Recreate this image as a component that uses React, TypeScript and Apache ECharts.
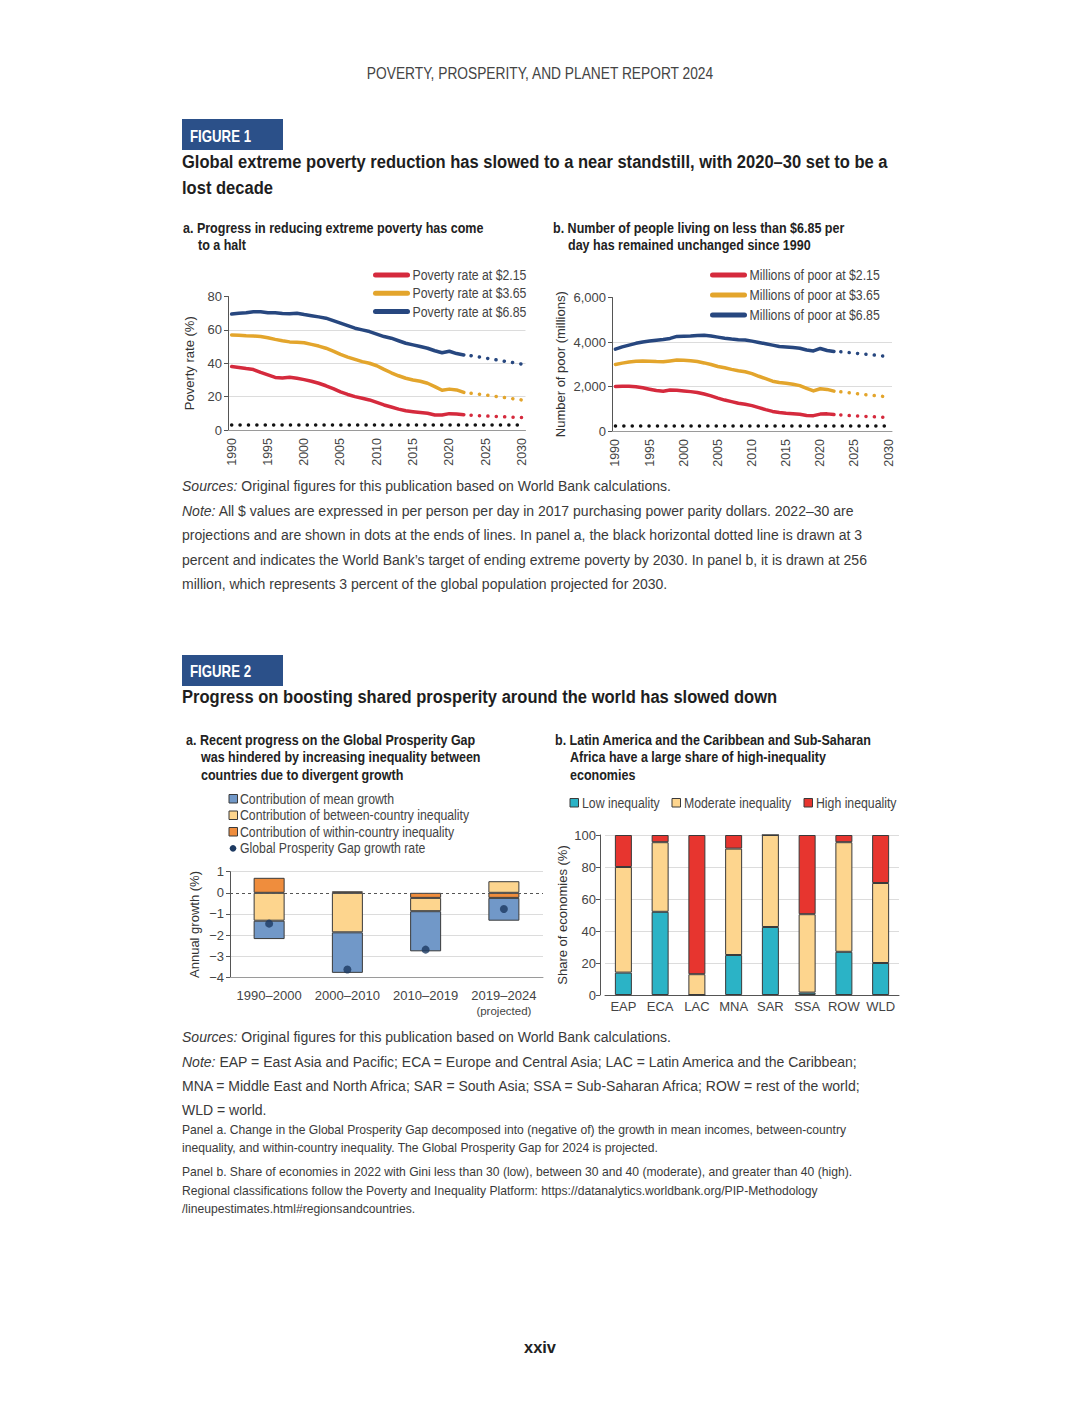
import React, { useEffect, useRef } from 'react';
import * as echarts from 'echarts';

// ---------- Figure 1 data ----------
const YEARS = ['1990','1991','1992','1993','1994','1995','1996','1997','1998','1999','2000','2001','2002','2003','2004','2005','2006','2007','2008','2009','2010','2011','2012','2013','2014','2015','2016','2017','2018','2019','2020','2021','2022','2023','2024','2025','2026','2027','2028','2029','2030'];
const PROJ_YEARS = ['2023','2024','2025','2026','2027','2028','2029','2030'];

const rate215 = [38, 37.5, 36.8, 36.2, 34.5, 33, 31.5, 31.2, 31.6, 31, 30.2, 29.2, 28, 26.5, 24.8, 22.8, 21.3, 20, 19, 18, 16.5, 15, 13.8, 12.5, 11.5, 11, 10.5, 10, 9, 9, 9.8, 9.6, 9.2];
const rate365 = [57, 56.8, 56.5, 56.3, 56, 55.3, 54.3, 53.5, 52.8, 52.6, 52.3, 51.3, 50.3, 49, 47.3, 45.3, 43.7, 42.3, 41, 40, 38.5, 36.3, 34.3, 32.5, 31, 30, 29.2, 28, 26, 23.8, 24.5, 24, 22.5];
const rate685 = [69.5, 70, 70.2, 70.8, 70.8, 70.3, 70.2, 69.8, 69.7, 70, 69.2, 68.5, 67.8, 67, 65.5, 64, 62.5, 61, 60, 59, 57.5, 56, 55, 53.5, 52, 51, 50, 49, 47.5, 46.3, 47.2, 45.8, 45];
const rate215Proj = [8.9, 8.6, 8.4, 8.2, 8.0, 7.8, 7.6, 7.5];
const rate365Proj = [22, 21.5, 21, 20.4, 19.8, 19.2, 18.6, 18];
const rate685Proj = [44.5, 43.8, 43.1, 42.4, 41.6, 40.9, 40.2, 39.5];
const TARGET_RATE = 3;

const poor215 = [2000, 2010, 2010, 1990, 1940, 1880, 1820, 1790, 1840, 1830, 1800, 1770, 1730, 1660, 1580, 1480, 1390, 1320, 1250, 1200, 1140, 1050, 960, 880, 830, 800, 780, 750, 700, 690, 760, 770, 740];
const poor365 = [2990, 3050, 3100, 3130, 3150, 3140, 3120, 3110, 3150, 3190, 3180, 3160, 3120, 3060, 2990, 2900, 2840, 2770, 2710, 2660, 2580, 2460, 2350, 2240, 2180, 2150, 2100, 2040, 1920, 1800, 1900, 1870, 1790];
const poor685 = [3680, 3780, 3860, 3940, 4000, 4040, 4080, 4110, 4160, 4250, 4260, 4270, 4290, 4300, 4270, 4220, 4170, 4130, 4100, 4090, 4040, 3980, 3920, 3860, 3800, 3780, 3750, 3720, 3640, 3600, 3710, 3620, 3570];
const poor215Proj = [720, 700, 680, 665, 650, 635, 620, 610];
const poor365Proj = [1760, 1730, 1690, 1650, 1620, 1590, 1560, 1530];
const poor685Proj = [3560, 3530, 3500, 3470, 3440, 3410, 3375, 3340];
const TARGET_POOR = 256;

const RATE_NAMES = ['Poverty rate at $2.15', 'Poverty rate at $3.65', 'Poverty rate at $6.85'];
const POOR_NAMES = ['Millions of poor at $2.15', 'Millions of poor at $3.65', 'Millions of poor at $6.85'];

// ---------- Figure 2 data ----------
const PERIODS = ['1990–2000', '2000–2010', '2010–2019', '2019–2024'];
const withinContrib = [0.71, 0.07, -0.24, -0.24];
const betweenContrib = [-1.32, -1.87, -0.63, 0.55];
const meanContrib = [-0.87, -1.92, -1.9, -1.08];
const gapGrowth = [-1.46, -3.63, -2.69, -0.77];
const GAP_NAMES = ['Contribution of mean growth', 'Contribution of between-country inequality', 'Contribution of within-country inequality', 'Global Prosperity Gap growth rate'];

const REGIONS = ['EAP', 'ECA', 'LAC', 'MNA', 'SAR', 'SSA', 'ROW', 'WLD'];
const lowIneq = [14, 52, 0, 25, 42.5, 1.5, 27, 20];
const modIneq = [66, 43.5, 13, 66.5, 57.5, 49, 68.5, 50];
const highIneq = [20, 4.5, 87, 8.5, 0, 49.5, 4.5, 30];
const INEQ_NAMES = ['Low inequality', 'Moderate inequality', 'High inequality'];

// ---------- styles ----------
const RED = '#d52a3d';
const GOLD = '#e3a52c';
const NAVY = '#27477f';
const C_MEAN = '#7198c8';
const C_BETWEEN = '#fdd58e';
const C_WITHIN = '#ef8d3d';
const C_DOT = '#1d3a62';
const C_LOW = '#2bb3c6';
const C_HIGH = '#e7352f';
const BOX = '#2b5089';
const GRID = '#dcdcdc';
const AXIS = '#555';
const LABEL = '#444';
const BORDER = '#3a3a3a';
const TEXT_FONT = "'Liberation Sans', Arial, sans-serif";
const AXIS_FONT = "'Liberation Sans', Arial, sans-serif";
const NONE = 'rgba(0,0,0,0)';

function buildOption() {
  const canvas = document.createElement('canvas');
  const ctx = canvas.getContext('2d')!;
  const fit = (text: string, size: number, weight: string, target: number) => {
    ctx.font = `${weight} ${size}px ${TEXT_FONT}`;
    return target / ctx.measureText(text).width;
  };

  const styles: Record<string, any> = {
    header: { size: 16, weight: 'normal', fill: '#444', ref: 'POVERTY, PROSPERITY, AND PLANET REPORT 2024', w: 348 },
    fig: { size: 16, weight: 'bold', fill: '#fff', ref: 'FIGURE 1', w: 61 },
    title: { size: 19, weight: 'bold', fill: '#1e1e1e', ref: 'Global extreme poverty reduction has slowed to a near standstill, with 2020–30 set to be a', w: 706 },
    sub: { size: 14, weight: 'bold', fill: '#222', ref: 'a. Progress in reducing extreme poverty has come', w: 301 },
    body: { size: 15.5, weight: 'normal', fill: '#3a3a3a', ref: 'Note: All $ values are expressed in per person per day in 2017 purchasing power parity dollars. 2022–30 are', w: 673 },
    small: { size: 13, weight: 'normal', fill: '#3a3a3a', ref: 'Panel a. Change in the Global Prosperity Gap decomposed into (negative of) the growth in mean incomes, between-country', w: 665 },
    legend: { size: 15, weight: 'normal', fill: LABEL, ref: 'Poverty rate at $2.15', w: 114 },
    page: { size: 16, weight: 'bold', fill: '#222', ref: 'xxiv', w: 32 },
  };
  Object.keys(styles).forEach((k) => {
    const s = styles[k];
    s.scale = fit(s.ref, s.size, s.weight, s.w);
  });

  const T = (x: number, y: number, text: string, g: string, align = 'left') => {
    const s = styles[g];
    return {
      type: 'text', x, y, scaleX: s.scale, silent: true,
      style: {
        text, fontFamily: TEXT_FONT, fontSize: s.size, fontWeight: s.weight, fill: s.fill,
        textAlign: align, textVerticalAlign: 'middle',
        rich: { i: { fontStyle: 'italic', fontFamily: TEXT_FONT, fontSize: s.size, fill: s.fill } },
      },
    };
  };
  const legLine = (x: number, y: number, color: string, label: string) => [
    { type: 'line', silent: true, shape: { x1: x + 2.5, y1: y, x2: x + 34.5, y2: y }, style: { stroke: color, lineWidth: 5, lineCap: 'round' } },
    T(x + 39.5, y, label, 'legend'),
  ];
  const legBox = (x: number, y: number, color: string, label: string, tx: number) => [
    { type: 'rect', silent: true, shape: { x, y: y - 4.5, width: 8.5, height: 8.5 }, style: { fill: color, stroke: BORDER, lineWidth: 1 } },
    T(tx, y, label, 'legend'),
  ];

  const graphic: any[] = [
    T(540, 73, 'POVERTY, PROSPERITY, AND PLANET REPORT 2024', 'header', 'center'),
    { type: 'rect', shape: { x: 182, y: 119, width: 101, height: 31 }, style: { fill: BOX }, silent: true },
    T(190, 137, 'FIGURE 1', 'fig'),
    T(182, 162, 'Global extreme poverty reduction has slowed to a near standstill, with 2020–30 set to be a', 'title'),
    T(182, 188, 'lost decade', 'title'),
    T(183, 228, 'a. Progress in reducing extreme poverty has come', 'sub'),
    T(198, 245, 'to a halt', 'sub'),
    T(553, 228, 'b. Number of people living on less than $6.85 per', 'sub'),
    T(568, 245, 'day has remained unchanged since 1990', 'sub'),
    ...legLine(373, 275, RED, RATE_NAMES[0]),
    ...legLine(373, 293.3, GOLD, RATE_NAMES[1]),
    ...legLine(373, 311.6, NAVY, RATE_NAMES[2]),
    ...legLine(710, 275, RED, POOR_NAMES[0]),
    ...legLine(710, 295, GOLD, POOR_NAMES[1]),
    ...legLine(710, 315, NAVY, POOR_NAMES[2]),
    T(182, 486, '{i|Sources:} Original figures for this publication based on World Bank calculations.', 'body'),
    T(182, 511, '{i|Note:} All $ values are expressed in per person per day in 2017 purchasing power parity dollars. 2022–30 are', 'body'),
    T(182, 535, 'projections and are shown in dots at the ends of lines. In panel a, the black horizontal dotted line is drawn at 3', 'body'),
    T(182, 560, 'percent and indicates the World Bank’s target of ending extreme poverty by 2030. In panel b, it is drawn at 256', 'body'),
    T(182, 584, 'million, which represents 3 percent of the global population projected for 2030.', 'body'),
    { type: 'rect', shape: { x: 182, y: 655, width: 101, height: 31 }, style: { fill: BOX }, silent: true },
    T(190, 672, 'FIGURE 2', 'fig'),
    T(182, 697, 'Progress on boosting shared prosperity around the world has slowed down', 'title'),
    T(186, 740, 'a. Recent progress on the Global Prosperity Gap', 'sub'),
    T(201, 757, 'was hindered by increasing inequality between', 'sub'),
    T(201, 775, 'countries due to divergent growth', 'sub'),
    T(555, 740, 'b. Latin America and the Caribbean and Sub-Saharan', 'sub'),
    T(570, 757, 'Africa have a large share of high-inequality', 'sub'),
    T(570, 775, 'economies', 'sub'),
    ...legBox(229, 799, C_MEAN, GAP_NAMES[0], 240),
    ...legBox(229, 815.5, C_BETWEEN, GAP_NAMES[1], 240),
    ...legBox(229, 832, C_WITHIN, GAP_NAMES[2], 240),
    { type: 'circle', silent: true, shape: { cx: 233, cy: 848.3, r: 3.3 }, style: { fill: C_DOT } },
    T(240, 848.3, GAP_NAMES[3], 'legend'),
    ...legBox(570, 803, C_LOW, INEQ_NAMES[0], 582),
    ...legBox(672, 803, C_BETWEEN, INEQ_NAMES[1], 684),
    ...legBox(804, 803, C_HIGH, INEQ_NAMES[2], 816),
    T(182, 1037, '{i|Sources:} Original figures for this publication based on World Bank calculations.', 'body'),
    T(182, 1062, '{i|Note:} EAP = East Asia and Pacific; ECA = Europe and Central Asia; LAC = Latin America and the Caribbean;', 'body'),
    T(182, 1086, 'MNA = Middle East and North Africa; SAR = South Asia; SSA = Sub-Saharan Africa; ROW = rest of the world;', 'body'),
    T(182, 1110, 'WLD = world.', 'body'),
    T(182, 1130, 'Panel a. Change in the Global Prosperity Gap decomposed into (negative of) the growth in mean incomes, between-country', 'small'),
    T(182, 1148, 'inequality, and within-country inequality. The Global Prosperity Gap for 2024 is projected.', 'small'),
    T(182, 1172, 'Panel b. Share of economies in 2022 with Gini less than 30 (low), between 30 and 40 (moderate), and greater than 40 (high).', 'small'),
    T(182, 1191, 'Regional classifications follow the Poverty and Inequality Platform: https://datanalytics.worldbank.org/PIP-Methodology', 'small'),
    T(182, 1209, '/lineupestimates.html#regionsandcountries.', 'small'),
    T(540, 1347, 'xxiv', 'page', 'center'),
  ];

  const yName = (name: string, gap: number) => ({
    name, nameLocation: 'middle', nameGap: gap,
    nameTextStyle: { fontSize: 13, color: '#333', fontFamily: AXIS_FONT },
  });
  const yBase = {
    type: 'value',
    axisLine: { show: true, lineStyle: { color: AXIS, width: 1 } },
    axisTick: { show: true, length: 4, lineStyle: { color: AXIS } },
  };
  const yearAxis = (gridIndex: number) => ({
    type: 'category', gridIndex, data: YEARS, boundaryGap: true,
    axisLine: { lineStyle: { color: '#9a9a9a' } },
    axisTick: { show: false },
    axisLabel: { interval: 4, rotate: 90, fontSize: 12.5, color: LABEL, margin: 8, fontFamily: AXIS_FONT },
    splitLine: { show: false },
  });

  const dotted = { type: [0.1, 8.3], cap: 'round', width: 3.5 };
  const targetLine = (v: number) => ({
    silent: true, symbol: 'none', label: { show: false },
    lineStyle: { color: '#111', ...dotted },
    data: [[{ coord: [YEARS[0], v] }, { coord: [YEARS[YEARS.length - 1], v] }]],
  });

  const lineSeries = (name: string, data: number[], color: string, axis: number, extra: any = {}) => ({
    name, type: 'line', xAxisIndex: axis, yAxisIndex: axis, data, symbol: 'none',
    lineStyle: { width: 3.5, color, join: 'round', cap: 'round' }, itemStyle: { color }, z: 3, ...extra,
  });
  const projSeries = (name: string, vals: number[], color: string, axis: number) => ({
    name, type: 'line', xAxisIndex: axis, yAxisIndex: axis,
    data: PROJ_YEARS.map((y, i) => [y, vals[i]]), symbol: 'none',
    lineStyle: { color, ...dotted }, itemStyle: { color }, z: 3,
  });

  const barBorder = { borderColor: BORDER, borderWidth: 1 };

  return {
    animation: false,
    textStyle: { fontFamily: AXIS_FONT },
    graphic,
    grid: [
      { left: 228, top: 296.5, width: 297.5, height: 133.5 },
      { left: 612, top: 297.5, width: 280, height: 133.5 },
      { left: 230, top: 871.7, width: 313, height: 105.6 },
      { left: 605, top: 835, width: 294, height: 160 },
    ],
    xAxis: [
      yearAxis(0),
      yearAxis(1),
      {
        type: 'category', gridIndex: 2, data: PERIODS,
        axisLine: { onZero: false, lineStyle: { color: '#9a9a9a' } },
        axisTick: { show: false },
        axisLabel: {
          interval: 0, fontSize: 13, color: LABEL, margin: 10, lineHeight: 16, fontFamily: AXIS_FONT,
          formatter: (v: string) => (v === PERIODS[3] ? v + '\n{p|(projected)}' : v),
          rich: { p: { fontSize: 11.5, color: LABEL, lineHeight: 16, fontFamily: AXIS_FONT } },
        },
      },
      {
        type: 'category', gridIndex: 3, data: REGIONS,
        axisLine: { lineStyle: { color: AXIS } },
        axisTick: { show: false },
        axisLabel: { interval: 0, fontSize: 13, color: LABEL, margin: 5, fontFamily: AXIS_FONT },
      },
    ],
    yAxis: [
      {
        ...yBase, gridIndex: 0, min: 0, max: 80, interval: 20,
        axisLabel: { fontSize: 13, color: LABEL, margin: 6, fontFamily: AXIS_FONT },
        splitLine: { show: true, lineStyle: { color: [NONE, GRID, GRID, GRID, NONE] } },
        ...yName('Poverty rate (%)', 32),
      },
      {
        ...yBase, gridIndex: 1, min: 0, max: 6000, interval: 2000,
        axisLabel: { fontSize: 13, color: LABEL, margin: 6, fontFamily: AXIS_FONT, formatter: (v: number) => v.toLocaleString('en-US') },
        splitLine: { show: true, lineStyle: { color: [NONE, GRID, GRID, NONE] } },
        ...yName('Number of poor (millions)', 45),
      },
      {
        ...yBase, gridIndex: 2, min: -4, max: 1, interval: 1,
        axisLabel: { fontSize: 13, color: LABEL, margin: 6, fontFamily: AXIS_FONT, formatter: (v: number) => (v < 0 ? '−' + Math.abs(v) : String(v)) },
        splitLine: { show: true, lineStyle: { color: [GRID, GRID, GRID, GRID, NONE, GRID] } },
        ...yName('Annual growth (%)', 29),
      },
      {
        ...yBase, gridIndex: 3, min: 0, max: 100, interval: 20, offset: 5,
        axisLabel: { fontSize: 13, color: LABEL, margin: 4, fontFamily: AXIS_FONT },
        splitLine: { show: true, lineStyle: { color: GRID } },
        ...yName('Share of economies (%)', 31),
      },
    ],
    series: [
      // Figure 1a
      lineSeries(RATE_NAMES[0], rate215, RED, 0, { markLine: targetLine(TARGET_RATE) }),
      lineSeries(RATE_NAMES[1], rate365, GOLD, 0),
      lineSeries(RATE_NAMES[2], rate685, NAVY, 0),
      projSeries('Projected rate at $2.15', rate215Proj, RED, 0),
      projSeries('Projected rate at $3.65', rate365Proj, GOLD, 0),
      projSeries('Projected rate at $6.85', rate685Proj, NAVY, 0),
      // Figure 1b
      lineSeries(POOR_NAMES[0], poor215, RED, 1, { markLine: targetLine(TARGET_POOR) }),
      lineSeries(POOR_NAMES[1], poor365, GOLD, 1),
      lineSeries(POOR_NAMES[2], poor685, NAVY, 1),
      projSeries('Projected poor at $2.15', poor215Proj, RED, 1),
      projSeries('Projected poor at $3.65', poor365Proj, GOLD, 1),
      projSeries('Projected poor at $6.85', poor685Proj, NAVY, 1),
      // Figure 2a
      {
        name: GAP_NAMES[2], type: 'bar', xAxisIndex: 2, yAxisIndex: 2, stack: 'gap', barWidth: 31,
        data: withinContrib, itemStyle: { color: C_WITHIN, ...barBorder },
        markLine: {
          silent: true, symbol: 'none', label: { show: false },
          lineStyle: { color: '#555', type: [3, 3], width: 1 }, data: [{ yAxis: 0 }],
        },
      },
      {
        name: GAP_NAMES[1], type: 'bar', xAxisIndex: 2, yAxisIndex: 2, stack: 'gap', barWidth: 31,
        data: betweenContrib, itemStyle: { color: C_BETWEEN, ...barBorder },
      },
      {
        name: GAP_NAMES[0], type: 'bar', xAxisIndex: 2, yAxisIndex: 2, stack: 'gap', barWidth: 31,
        data: meanContrib, itemStyle: { color: C_MEAN, ...barBorder },
      },
      {
        name: GAP_NAMES[3], type: 'scatter', xAxisIndex: 2, yAxisIndex: 2, data: gapGrowth,
        symbolSize: 8, itemStyle: { color: C_DOT }, z: 5,
      },
      // Figure 2b
      {
        name: INEQ_NAMES[0], type: 'bar', xAxisIndex: 3, yAxisIndex: 3, stack: 'ineq', barWidth: 17,
        data: lowIneq, itemStyle: { color: C_LOW, ...barBorder },
      },
      {
        name: INEQ_NAMES[1], type: 'bar', xAxisIndex: 3, yAxisIndex: 3, stack: 'ineq', barWidth: 17,
        data: modIneq, itemStyle: { color: C_BETWEEN, ...barBorder },
      },
      {
        name: INEQ_NAMES[2], type: 'bar', xAxisIndex: 3, yAxisIndex: 3, stack: 'ineq', barWidth: 17,
        data: highIneq, itemStyle: { color: C_HIGH, ...barBorder },
      },
    ],
  };
}

export default function App() {
  const ref = useRef<HTMLDivElement>(null);
  useEffect(() => {
    const chart = echarts.init(ref.current!, null, { renderer: 'svg' });
    chart.setOption(buildOption() as any);
    return () => chart.dispose();
  }, []);
  return (
    <div
      ref={ref}
      style={{ position: 'absolute', left: 0, top: 0, width: 1080, height: 1418, background: '#fff' }}
    />
  );
}
